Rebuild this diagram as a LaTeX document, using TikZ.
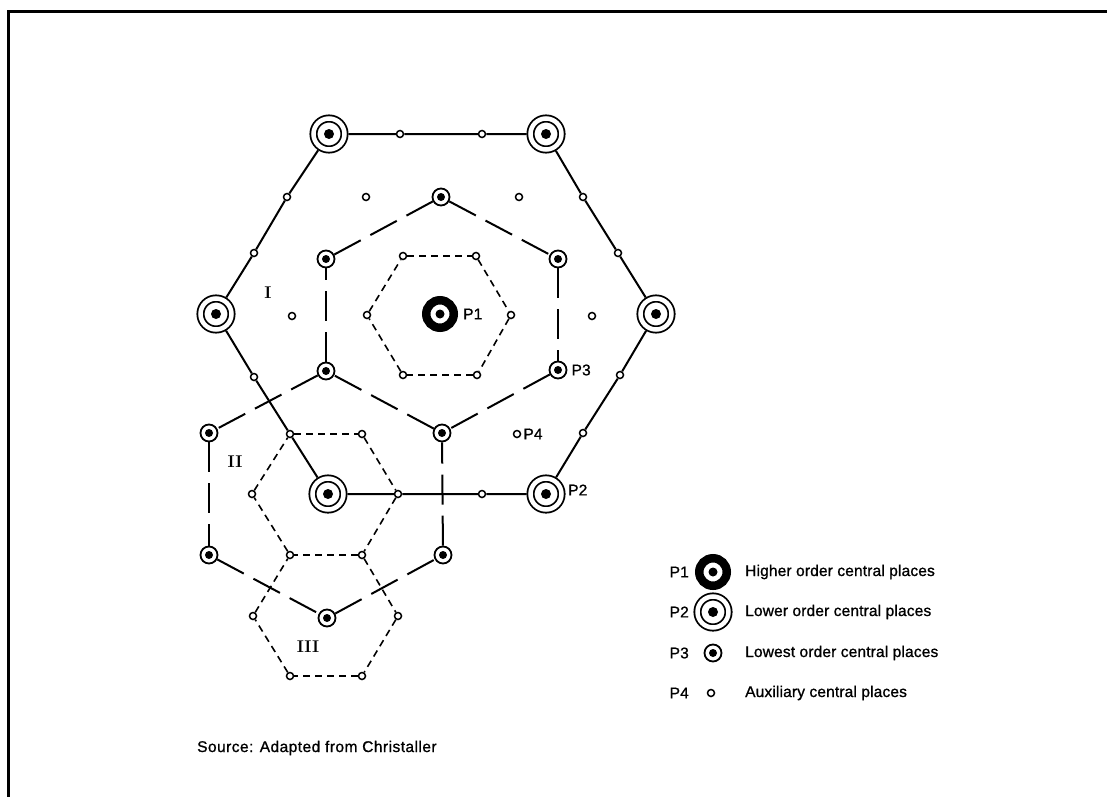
\documentclass[tikz,border=0pt]{standalone}
\usepackage{fontspec}
\usetikzlibrary{positioning}
\newfontfamily\legfont[LetterSpace=1,FakeBold=1]{Liberation Sans}
\newfontfamily\srcfont[LetterSpace=3,FakeBold=1]{Liberation Sans}

\begin{document}
\begin{tikzpicture}[x=1pt,y=-1pt,
  place/.style={circle,draw,fill=white,inner sep=0pt},
  higher/.style={place,line width=8.5pt,minimum size=27.5pt,
                 path picture={\fill[black] (path picture bounding box.center) circle (4.5pt);}},
  lower/.style={place,line width=1.8pt,double,double distance=4.5pt,
                minimum size=31pt,outer sep=4pt,
                path picture={\fill[black] (path picture bounding box.center) circle (5pt);}},
  lowest/.style={place,line width=1.8pt,minimum size=17pt,
                 path picture={\fill[black] (path picture bounding box.center) circle (4pt);}},
  aux/.style={place,line width=1.5pt,minimum size=7pt},
  road/.style={line width=2pt},
  ring3/.style={line width=2pt,dash pattern=on 30pt off 11pt},
  ring4/.style={line width=1.6pt,dash pattern=on 7pt off 5pt},
  ptext/.style={font=\legfont\fontsize{15.5}{17}\selectfont,inner sep=0pt},
  roman/.style={font=\fontsize{17}{19}\selectfont\bfseries,inner sep=0pt}
]
\useasboundingbox (0,0) rectangle (1107,797);
\draw[line width=3pt] (1107,11.5) -- (8.5,11.5) -- (8.5,797);

% central places
\node[higher] (p1) at (440,314) {};
\node[lower] (p2nw) at (329,134) {};
\node[lower] (p2ne) at (546,134) {};
\node[lower] (p2e) at (656,314) {};
\node[lower] (p2se) at (546,494) {};
\node[lower] (p2sw) at (328,494) {};
\node[lower] (p2w) at (216,314) {};
\node[lowest] (p3n) at (441,197) {};
\node[lowest] (p3nw) at (326,259) {};
\node[lowest] (p3ne) at (558,259) {};
\node[lowest] (p3sw) at (326,371) {};
\node[lowest] (p3se) at (558,370) {};
\node[lowest] (p3s) at (442,433) {};
\node[lowest] (p3a) at (209,433) {};
\node[lowest] (p3b) at (209,555) {};
\node[lowest] (p3c) at (327,618) {};
\node[lowest] (p3d) at (443,555) {};

% auxiliary places on the roads
\node[aux] (r1) at (400,134) {};
\node[aux] (r2) at (482,134) {};
\node[aux] (r3) at (583,197) {};
\node[aux] (r4) at (618,253) {};
\node[aux] (r5) at (620,375) {};
\node[aux] (r6) at (583,433) {};
\node[aux] (r7) at (482,494) {};
\node[aux] (r8) at (398,494) {};
\node[aux] (r9) at (290,434) {};
\node[aux] (r10) at (254,377) {};
\node[aux] (r11) at (254,253) {};
\node[aux] (r12) at (287,197) {};
% auxiliary places, inner rings
\node[aux] (a1) at (403,256) {};
\node[aux] (a2) at (476,256) {};
\node[aux] (a3) at (511,315) {};
\node[aux] (a4) at (477,375) {};
\node[aux] (a5) at (403,375) {};
\node[aux] (a6) at (367,315) {};
\node[aux] (b2) at (362,434) {};
\node[aux] (b4) at (362,555) {};
\node[aux] (b5) at (290,555) {};
\node[aux] (b6) at (252,494) {};
\node[aux] (c3) at (398,616) {};
\node[aux] (c4) at (362,676) {};
\node[aux] (c5) at (290,676) {};
\node[aux] (c6) at (253,616) {};
\node[aux] (f1) at (366,197) {};
\node[aux] (f2) at (519,197) {};
\node[aux] (f3) at (292,316) {};
\node[aux] (f4) at (592,316) {};
\node[aux] (f5) at (517,434) {};

\draw[road] (p2nw) -- (r1) -- (r2) -- (p2ne) -- (r3) -- (r4) -- (p2e)
  -- (r5) -- (r6) -- (p2se) -- (r7) -- (r8) -- (p2sw) -- (r9) -- (r10)
  -- (p2w) -- (r11) -- (r12) -- (p2nw);
\foreach \a/\b in {p3n/p3ne,p3ne/p3se,p3se/p3s,p3s/p3sw,p3sw/p3nw,p3nw/p3n,
                   p3sw/p3a,p3a/p3b,p3b/p3c,p3c/p3d,p3d/p3s}
  \draw[ring3] (\a) -- (\b);
\foreach \a/\b in {a1/a2,a2/a3,a3/a4,a4/a5,a5/a6,a6/a1,
                   r9/b2,b2/r8,r8/b4,b4/b5,b5/b6,b6/r9,
                   b4/c3,c3/c4,c4/c5,c5/c6,c6/b5}
  \draw[ring4] (\a) -- (\b);

\node[ptext,right=5pt of p1] (lp1) {P1};
\node[ptext,right=2.5pt of p2se,yshift=4pt] (lp2) {P2};
\node[ptext,right=4pt of p3se] (lp3) {P3};
\node[ptext,right=2pt of f5] (lp4) {P4};
\node[roman] (z1) at (268,293) {I};
\node[roman] (z2) at (235,462) {II};
\node[roman] (z3) at (308,647) {III};

% legend
\node[higher] (k1) at (713,572) {};
\node[lower] (k2) at (713,612) {};
\node[lowest] (k3) at (713,653) {};
\node[aux] (k4) at (711,693) {};
\node[ptext,anchor=east] (kl1) at (689,572) {P1};
\node[ptext,anchor=east] (kl2) at (689,612) {P2};
\node[ptext,anchor=east] (kl3) at (689,653) {P3};
\node[ptext,anchor=east] (kl4) at (689,693) {P4};
\node[ptext,anchor=west] (kt1) at (745,572) {Higher order central places};
\node[ptext,anchor=west] (kt2) at (745,612) {Lower order central places};
\node[ptext,anchor=west] (kt3) at (745,653) {Lowest order central places};
\node[ptext,anchor=west] (kt4) at (745,693) {Auxiliary central places};
\node[ptext,font=\srcfont\fontsize{15.5}{17}\selectfont,anchor=west] (src)
  at (197,748) {Source: Adapted from Christaller};
\end{tikzpicture}
\end{document}
